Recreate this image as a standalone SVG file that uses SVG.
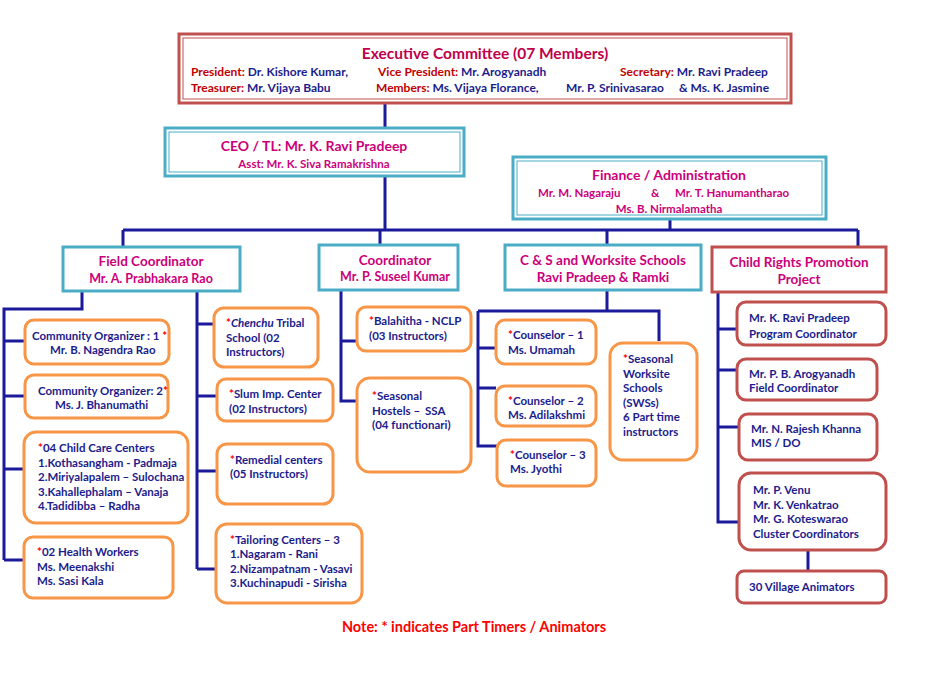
<svg xmlns="http://www.w3.org/2000/svg" width="950" height="685" viewBox="0 0 950 685">
<style>
text{font-family:Lato,"Open Sans","Liberation Sans",sans-serif;font-weight:bold;font-size:11.5px;fill:#1c1c8c}
.e{font-size:12px}
.m{fill:#cc007a;font-size:13.5px}
.r{fill:#c00000}
.s{fill:#ff0000}
.o{fill:#fff;stroke:#f79646;stroke-width:3}
.rd{fill:#fff;stroke:#c0504d;stroke-width:3}
.tl{fill:#fff;stroke:#4bacc6;stroke-width:3}
#conn path{fill:none;stroke:#1a1a9a;stroke-width:3}
</style>
<rect width="950" height="685" fill="#fff"/>
<g id="conn">
<path d="M385 103V230M123 230H858M670 219V230M123 230V247M380 230V245M607 230V245M858 230V247"/>
<path d="M82 291V309H4V560M4 341H25M4 396H25M4 469H24M4 560H24"/>
<path d="M197 291V569M197 324H214M197 396H217M197 471H217M197 569H216"/>
<path d="M341 290V401H357M341 341H357"/>
<path d="M607 290V311M478 311H659V341M478 311V446H497M478 348H496M478 388H496"/>
<path d="M718 292V522H739M718 329H737M718 370H737M718 427H739M808 550V571"/>
</g>
<g id="exec"><rect x="179" y="34" width="612" height="69" fill="#fff" stroke="#c0504d" stroke-width="3"/><rect x="183" y="38" width="604" height="61" fill="none" stroke="#c0504d" stroke-width="1"/>
<text x="485" y="59" text-anchor="middle" class="m" style="fill:#c0004a;font-size:15.5px">Executive Committee (07 Members)</text>
<text x="191" y="76" class="e"><tspan class="r">President:</tspan> Dr. Kishore Kumar,</text>
<text x="378" y="76" class="e"><tspan class="r">Vice President:</tspan> Mr. Arogyanadh</text>
<text x="620" y="76" class="e"><tspan class="r">Secretary:</tspan> Mr. Ravi Pradeep</text>
<text x="191" y="92" class="e"><tspan class="r">Treasurer:</tspan> Mr. Vijaya Babu</text>
<text x="376" y="92" class="e"><tspan class="r">Members:</tspan> Ms. Vijaya Florance,</text>
<text x="566" y="92" class="e">Mr. P. Srinivasarao</text><text x="679" y="92" class="e">&amp; Ms. K. Jasmine</text></g>
<g id="ceo"><rect x="165" y="128" width="299" height="48" class="tl"/><rect x="169" y="132" width="291" height="40" fill="none" stroke="#4bacc6"/>
<text x="314" y="151" text-anchor="middle" class="m" style="font-size:14px">CEO / TL: Mr. K. Ravi Pradeep</text>
<text x="314" y="168" text-anchor="middle" class="m" style="font-size:11.5px">Asst: Mr. K. Siva Ramakrishna</text></g>
<g id="fin"><rect x="513" y="157" width="313" height="62" class="tl"/><rect x="517" y="161" width="305" height="54" fill="none" stroke="#4bacc6"/>
<text x="669" y="180" text-anchor="middle" class="m" style="font-size:14px">Finance / Administration</text>
<text x="538" y="197" class="m" style="font-size:11.5px">Mr. M. Nagaraju</text><text x="651" y="197" class="m" style="font-size:11.5px">&amp;</text><text x="675" y="197" class="m" style="font-size:11.5px">Mr. T. Hanumantharao</text>
<text x="669" y="213" text-anchor="middle" class="m" style="font-size:11.5px">Ms. B. Nirmalamatha</text></g>
<g id="fc"><rect x="63" y="247" width="177" height="44" class="tl"/><text x="151" y="266" text-anchor="middle" class="m">Field Coordinator</text><text x="151" y="283" text-anchor="middle" class="m" style="font-size:12.5px">Mr. A. Prabhakara Rao</text></g>
<g id="coord"><rect x="319" y="245" width="139" height="45" class="tl"/><text x="395" y="265" text-anchor="middle" class="m">Coordinator</text><text x="395" y="281" text-anchor="middle" class="m" style="font-size:12.5px">Mr. P. Suseel Kumar</text></g>
<g id="cs"><rect x="505" y="245" width="196" height="45" class="tl"/><text x="603" y="265" text-anchor="middle" class="m">C &amp; S and Worksite Schools</text><text x="603" y="282" text-anchor="middle" class="m">Ravi Pradeep &amp; Ramki</text></g>
<g id="crp"><rect x="712" y="247" width="174" height="45" class="rd"/><text x="799" y="267" text-anchor="middle" class="m">Child Rights Promotion</text><text x="799" y="284" text-anchor="middle" class="m">Project</text></g>
<g id="co1"><rect x="25" y="320" width="144" height="44" rx="9" class="o"/><text x="32" y="340">Community Organizer : 1 <tspan class="s">*</tspan></text><text x="50" y="354">Mr. B. Nagendra Rao</text></g>
<g id="co2"><rect x="25" y="375" width="143" height="43" rx="9" class="o"/><text x="38" y="395">Community Organizer: 2<tspan class="s">*</tspan></text><text x="55" y="409">Ms. J. Bhanumathi</text></g>
<g id="ccc"><rect x="24" y="432" width="164" height="91" rx="12" class="o"/><text x="38" y="452"><tspan class="s">*</tspan>04 Child Care Centers</text><text x="38" y="467">1.Kothasangham - Padmaja</text><text x="38" y="481">2.Miriyalapalem – Sulochana</text><text x="38" y="496">3.Kahallephalam – Vanaja</text><text x="38" y="510">4.Tadidibba – Radha</text></g>
<g id="hw"><rect x="24" y="537" width="149" height="61" rx="9" class="o"/><text x="37" y="556"><tspan class="s">*</tspan>02 Health Workers</text><text x="37" y="571">Ms. Meenakshi</text><text x="37" y="585">Ms. Sasi Kala</text></g>
<g id="chenchu"><rect x="214" y="308" width="104" height="59" rx="10" class="o"/><text x="226" y="327"><tspan class="s">*</tspan><tspan font-style="italic">Chenchu</tspan> Tribal</text><text x="226" y="342">School (02</text><text x="226" y="356">Instructors)</text></g>
<g id="slum"><rect x="217" y="379" width="116" height="42" rx="9" class="o"/><text x="229" y="398"><tspan class="s">*</tspan>Slum Imp. Center</text><text x="229" y="413">(02 Instructors)</text></g>
<g id="rem"><rect x="217" y="444" width="116" height="60" rx="10" class="o"/><text x="230" y="464"><tspan class="s">*</tspan>Remedial centers</text><text x="230" y="478">(05 Instructors)</text></g>
<g id="tail"><rect x="216" y="524" width="146" height="79" rx="11" class="o"/><text x="230" y="544"><tspan class="s">*</tspan>Tailoring Centers – 3</text><text x="230" y="558">1.Nagaram - Rani</text><text x="230" y="573">2.Nizampatnam - Vasavi</text><text x="230" y="587">3.Kuchinapudi - Sirisha</text></g>
<g id="bal"><rect x="357" y="307" width="114" height="44" rx="9" class="o"/><text x="369" y="325"><tspan class="s">*</tspan>Balahitha - NCLP</text><text x="369" y="340">(03 Instructors)</text></g>
<g id="sh"><rect x="357" y="378" width="114" height="94" rx="13" class="o"/><text x="372" y="400"><tspan class="s">*</tspan>Seasonal</text><text x="372" y="415">Hostels –</text><text x="425" y="415">SSA</text><text x="372" y="429">(04 functionari)</text></g>
<g id="c1"><rect x="496" y="320" width="100" height="44" rx="9" class="o"/><text x="508" y="339"><tspan class="s">*</tspan>Counselor – 1</text><text x="508" y="354">Ms. Umamah</text></g>
<g id="c2"><rect x="496" y="386" width="100" height="40" rx="9" class="o"/><text x="508" y="405"><tspan class="s">*</tspan>Counselor – 2</text><text x="508" y="419">Ms. Adilakshmi</text></g>
<g id="c3"><rect x="497" y="440" width="99" height="46" rx="9" class="o"/><text x="510" y="459"><tspan class="s">*</tspan>Counselor – 3</text><text x="510" y="473">Ms. Jyothi</text></g>
<g id="sws"><rect x="610" y="343" width="87" height="117" rx="13" class="o"/><text x="623" y="363"><tspan class="s">*</tspan>Seasonal</text><text x="623" y="378">Worksite</text><text x="623" y="392">Schools</text><text x="623" y="407">(SWSs)</text><text x="623" y="421">6 Part time</text><text x="623" y="436">instructors</text></g>
<g id="krp"><rect x="737" y="302" width="149" height="43" rx="9" class="rd"/><text x="749" y="322">Mr. K. Ravi Pradeep</text><text x="749" y="338">Program Coordinator</text></g>
<g id="pba"><rect x="737" y="359" width="140" height="41" rx="9" class="rd"/><text x="749" y="378">Mr. P. B. Arogyanadh</text><text x="749" y="392">Field Coordinator</text></g>
<g id="nrk"><rect x="739" y="414" width="138" height="46" rx="9" class="rd"/><text x="751" y="433">Mr. N. Rajesh Khanna</text><text x="751" y="447">MIS / DO</text></g>
<g id="cc"><rect x="739" y="473" width="147" height="77" rx="12" class="rd"/><text x="753" y="494">Mr. P. Venu</text><text x="753" y="509">Mr. K. Venkatrao</text><text x="753" y="523">Mr. G. Koteswarao</text><text x="753" y="538">Cluster Coordinators</text></g>
<g id="va"><rect x="737" y="571" width="149" height="32" rx="7" class="rd"/><text x="749" y="591">30 Village Animators</text></g>
<text x="474" y="632" text-anchor="middle" style="fill:#ff0000;font-size:14.5px">Note: * indicates Part Timers / Animators</text>
</svg>
